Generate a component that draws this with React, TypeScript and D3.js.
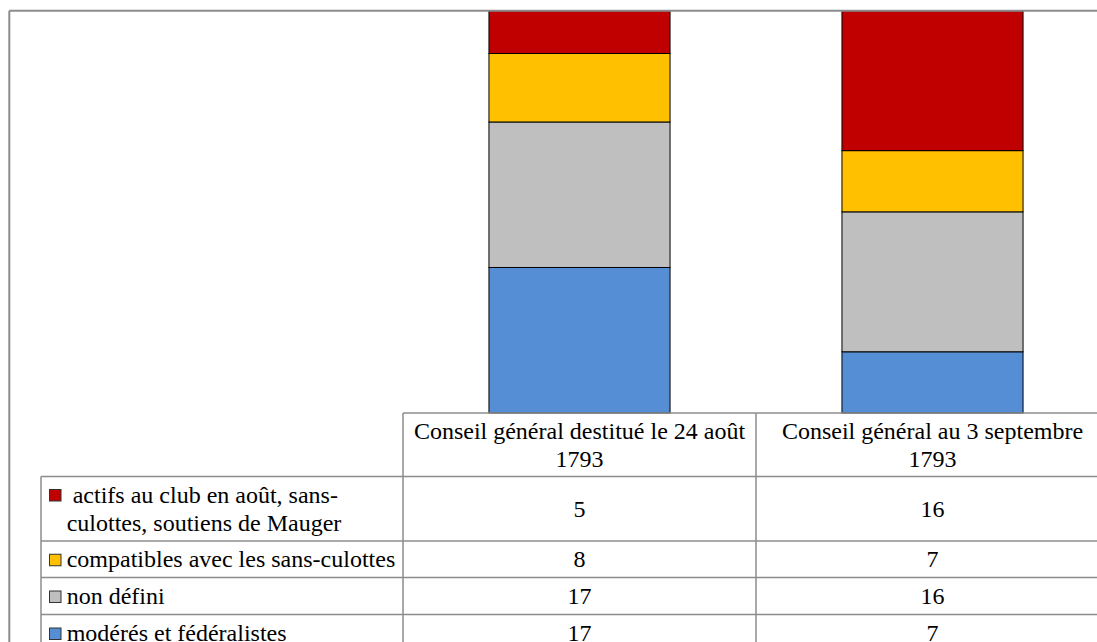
import React from "react";
import * as d3 from "d3";

const headerLines: string[][] = [
  ["Conseil général destitué le 24 août", "1793"],
  ["Conseil général au 3 septembre", "1793"],
];
const categories = ["Conseil général destitué le 24 août 1793", "Conseil général au 3 septembre 1793"];

const seriesNames = ["actifs", "compatibles", "nondefini", "moderes"];
const seriesLabels: string[][] = [
  ["\u00a0actifs au club en août, sans-", "culottes, soutiens de Mauger"],
  ["compatibles avec les sans-culottes"],
  ["non défini"],
  ["modérés et fédéralistes"],
];
const actifs = [5, 16];
const compatibles = [8, 7];
const nonDefini = [17, 16];
const moderes = [17, 7];
const colors = ["#C00000", "#FFC000", "#BFBFBF", "#558ED5"];

const W = 1097;
const H = 642;
const FONT = "Liberation Serif";
const GRID = "#8c8c8c";

export default function App() {
  const seriesValues = [actifs, compatibles, nonDefini, moderes];
  const rows = categories.map((c, i) => {
    const o: any = { cat: c };
    seriesNames.forEach((s, j) => (o[s] = seriesValues[j][i]));
    return o;
  });
  // stack bottom-up: moderes, nondefini, compatibles, actifs
  const stackKeys = [...seriesNames].reverse();
  const stack = d3.stack<any>().keys(stackKeys).offset(d3.stackOffsetExpand)(rows);

  const colLeft = 403;
  const colW = 353;
  const x = d3
    .scaleBand<string>()
    .domain(categories)
    .range([colLeft, colLeft + colW * categories.length])
    .paddingInner(0.487)
    .paddingOuter(0.2435);
  const y = d3.scaleLinear().domain([0, 1]).range([413, 10.7]);

  const legendLeft = 41;
  const rowLines = [476.5, 541, 577.5, 614.5, 651.5];
  const headerTop = 413;
  const tableRight = colLeft + colW * categories.length;

  const colorOf = (k: string) => colors[seriesNames.indexOf(k)];

  return (
    <svg width={W} height={H} style={{ position: "absolute", left: 0, top: 0, background: "#fff" }}>
      {/* bars */}
      {stack.map((layer) => (
        <g key={layer.key}>
          {layer.map((d, i) => (
            <rect
              key={i}
              x={x(categories[i])}
              width={x.bandwidth()}
              y={y(d[1])}
              height={y(d[0]) - y(d[1])}
              fill={colorOf(layer.key)}
              stroke="#000"
              strokeWidth={1}
            />
          ))}
        </g>
      ))}
      {/* outer frame */}
      <line x1={9.3} x2={W} y1={10.7} y2={10.7} stroke={GRID} strokeWidth={2} />
      <line x1={9.3} x2={9.3} y1={10.7} y2={H} stroke={GRID} strokeWidth={2} />

      {/* table grid */}
      <line x1={colLeft} x2={tableRight} y1={headerTop} y2={headerTop} stroke={GRID} strokeWidth={1.5} />
      {rowLines.map((ly, i) => (
        <line key={i} x1={legendLeft} x2={tableRight} y1={ly} y2={ly} stroke={GRID} strokeWidth={1.5} />
      ))}
      <line x1={legendLeft} x2={legendLeft} y1={rowLines[0]} y2={H} stroke={GRID} strokeWidth={1.5} />
      {categories.map((c, i) => (
        <line key={i} x1={colLeft + colW * i} x2={colLeft + colW * i} y1={headerTop} y2={H} stroke={GRID} strokeWidth={1.5} />
      ))}
      <line x1={tableRight} x2={tableRight} y1={headerTop} y2={H} stroke={GRID} strokeWidth={1.5} />

      {/* header text */}
      {headerLines.map((lines, i) => (
        <text
          key={i}
          x={colLeft + colW * i + colW / 2}
          textAnchor="middle"
          fontFamily={FONT}
          fontSize={24}
          fill="#000"
        >
          {lines.map((t, j) => (
            <tspan key={j} x={colLeft + colW * i + colW / 2} y={438.5 + j * 28.5}>
              {t}
            </tspan>
          ))}
        </text>
      ))}

      {/* legend rows */}
      {seriesNames.map((s, r) => {
        const top = rowLines[r];
        const bottom = rowLines[r + 1];
        const cy = (top + bottom) / 2;
        const lines = seriesLabels[r];
        const firstBase = cy + 8 - ((lines.length - 1) * 28.5) / 2;
        return (
          <g key={s}>
            <rect x={49.5} y={firstBase - 13} width={11.5} height={11.5} fill={colors[r]} stroke="#333" strokeWidth={1} />
            <text fontFamily={FONT} fontSize={24} fill="#000">
              {lines.map((t, j) => (
                <tspan key={j} x={66.7} y={firstBase + j * 28.5}>
                  {t}
                </tspan>
              ))}
            </text>
            {categories.map((c, i) => (
              <text
                key={i}
                x={colLeft + colW * i + colW / 2}
                y={cy + 8}
                textAnchor="middle"
                fontFamily={FONT}
                fontSize={24}
                fill="#000"
              >
                {seriesValues[r][i]}
              </text>
            ))}
          </g>
        );
      })}
    </svg>
  );
}
